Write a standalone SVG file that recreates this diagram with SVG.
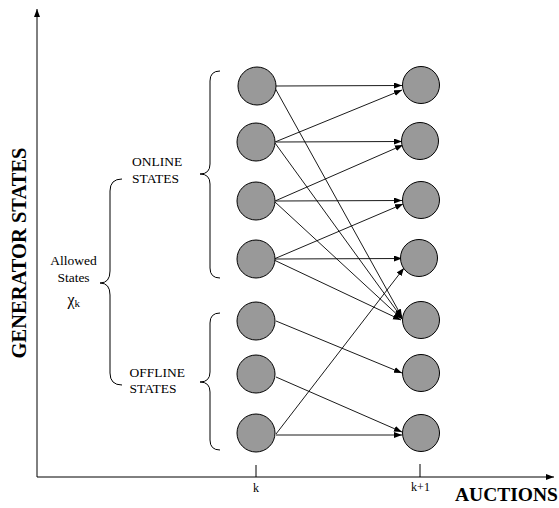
<svg xmlns="http://www.w3.org/2000/svg" width="559" height="508" viewBox="0 0 559 508">
<style>
.node{fill:#999999;stroke:#000;stroke-width:1}
.edge{stroke:#000;stroke-width:0.9;fill:none}
.axis{stroke:#000;stroke-width:1;fill:none}
.brace{stroke:#000;stroke-width:1;fill:none}
.t{font-family:"Liberation Serif","Times New Roman",serif;font-size:13.5px;fill:#000}
.b{font-family:"Liberation Serif","Times New Roman",serif;font-weight:bold;fill:#000}
</style>
<defs>
<marker id="ah" markerUnits="userSpaceOnUse" markerWidth="9" markerHeight="7" refX="8" refY="3" orient="auto">
<path d="M0,0 L8,3 L0,6 z" fill="#000"/>
</marker>
</defs>
<rect width="559" height="508" fill="#fff"/>
<g id="axes">
<line class="axis" x1="37" y1="477" x2="37" y2="9" marker-end="url(#ah)"/>
<line class="axis" x1="37" y1="477" x2="554" y2="477" marker-end="url(#ah)"/>
<line class="axis" x1="256" y1="465" x2="256" y2="477"/>
<line class="axis" x1="420" y1="464" x2="420" y2="477"/>
<text class="t" x="256" y="492" text-anchor="middle" style="font-size:12px">k</text>
<text class="t" x="420.5" y="491" text-anchor="middle" style="font-size:12px">k+1</text>
<text class="b" x="455" y="501" style="font-size:19.5px">AUCTIONS</text>
<text class="b" transform="translate(26,253) rotate(-90)" text-anchor="middle" style="font-size:20.5px">GENERATOR STATES</text>
</g>
<g id="braces">
<path class="brace" d="M220,71 Q210,71 210,81 L210,164 Q210,174 200,174 Q210,174 210,184 L210,268 Q210,278 220,278"/>
<path class="brace" d="M220,313 Q210,313 210,323 L210,372 Q210,382 200,382 Q210,382 210,392 L210,440 Q210,450 220,450"/>
<path class="brace" d="M122,179 Q110,179 110,191 L110,271 Q110,283 100,283 Q110,283 110,295 L110,373 Q110,385 122,385"/>
</g>
<g id="labels">
<text class="t" x="132" y="166">ONLINE</text>
<text class="t" x="132" y="183">STATES</text>
<text class="t" x="73.5" y="265" text-anchor="middle">Allowed</text>
<text class="t" x="73.5" y="282" text-anchor="middle">States</text>
<text class="t" x="67.5" y="305" style="font-size:16px">χ<tspan style="font-size:11px" dy="2">k</tspan></text>
<text class="t" x="129.5" y="377">OFFLINE</text>
<text class="t" x="129.5" y="393">STATES</text>
</g>
<g id="connectors">
<line class="edge" x1="276" y1="86" x2="402" y2="85.5" marker-end="url(#ah)"/>
<line class="edge" x1="275" y1="88" x2="402" y2="317" marker-end="url(#ah)"/>
<line class="edge" x1="275" y1="142" x2="402" y2="90" marker-end="url(#ah)"/>
<line class="edge" x1="276" y1="142" x2="402" y2="141.5" marker-end="url(#ah)"/>
<line class="edge" x1="275" y1="143" x2="402" y2="318" marker-end="url(#ah)"/>
<line class="edge" x1="275" y1="201" x2="403" y2="145" marker-end="url(#ah)"/>
<line class="edge" x1="276" y1="201" x2="402" y2="200.5" marker-end="url(#ah)"/>
<line class="edge" x1="275" y1="202" x2="402" y2="319" marker-end="url(#ah)"/>
<line class="edge" x1="274" y1="259" x2="403" y2="204" marker-end="url(#ah)"/>
<line class="edge" x1="275" y1="259" x2="402" y2="258.5" marker-end="url(#ah)"/>
<line class="edge" x1="274" y1="260" x2="401" y2="320" marker-end="url(#ah)"/>
<line class="edge" x1="276" y1="321" x2="402" y2="373" marker-end="url(#ah)"/>
<line class="edge" x1="276" y1="377" x2="402" y2="432" marker-end="url(#ah)"/>
<line class="edge" x1="276" y1="435" x2="402" y2="435" marker-end="url(#ah)"/>
<line class="edge" x1="276" y1="434" x2="404" y2="268" marker-end="url(#ah)"/>
</g>
<g id="L1"><circle class="node" cx="257" cy="86" r="19"/></g>
<g id="L2"><circle class="node" cx="256" cy="142" r="19"/></g>
<g id="L3"><circle class="node" cx="256" cy="201" r="19"/></g>
<g id="L4"><circle class="node" cx="256" cy="259" r="19"/></g>
<g id="L5"><circle class="node" cx="256" cy="321" r="19"/></g>
<g id="L6"><circle class="node" cx="256" cy="374" r="19"/></g>
<g id="L7"><circle class="node" cx="256" cy="433" r="19"/></g>
<g id="R1"><circle class="node" cx="421" cy="85" r="18.5"/></g>
<g id="R2"><circle class="node" cx="420" cy="141" r="18.5"/></g>
<g id="R3"><circle class="node" cx="421" cy="200" r="18.5"/></g>
<g id="R4"><circle class="node" cx="419" cy="258" r="18.5"/></g>
<g id="R5"><circle class="node" cx="421" cy="320" r="18.5"/></g>
<g id="R6"><circle class="node" cx="421" cy="373" r="18.5"/></g>
<g id="R7"><circle class="node" cx="421" cy="433" r="18.5"/></g>
</svg>
